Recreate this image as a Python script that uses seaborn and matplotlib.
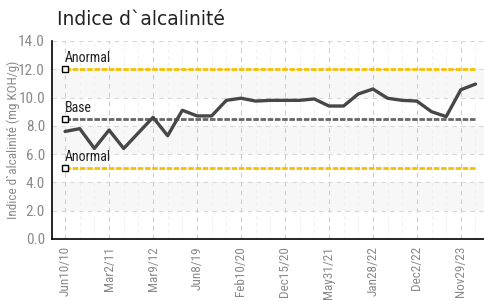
import matplotlib
matplotlib.use("Agg")
import matplotlib.pyplot as plt
from matplotlib import font_manager as fm
import seaborn as sns
import pandas as pd
import numpy as np

# ---- data ----
values = [7.6, 7.8, 6.4, 7.7, 6.4, 7.5, 8.6, 7.3, 9.1, 8.7, 8.7, 9.8, 9.95, 9.75, 9.8,
          9.8, 9.8, 9.9, 9.4, 9.4, 10.25, 10.6, 9.95, 9.8, 9.75, 9.0, 8.65, 10.55, 10.95]
tick_labels = ["Jun10/10", "Mar2/11", "Mar9/12", "Jun8/19", "Feb10/20", "Dec15/20",
               "May31/21", "Jan28/22", "Dec2/22", "Nov29/23"]
ref_names = ["Anormal", "Base", "Anormal"]
ref_values = [12.0, 8.5, 5.0]
ref_colors = ["#F5C000", "#666666", "#F5C000"]
y_ticks = [0, 2, 4, 6, 8, 10, 12, 14]

sns.set_style("white")

narrow = None
for cand in ["Liberation Sans Narrow", "Roboto Condensed", "Open Sans Condensed",
             "DejaVu Sans Condensed", "Liberation Sans"]:
    try:
        fm.findfont(fm.FontProperties(family=cand), fallback_to_default=False)
        narrow = cand
        break
    except Exception:
        continue
if narrow is None:
    narrow = "DejaVu Sans"
cond = [narrow, "DejaVu Sans"]
plt.rcParams["font.family"] = cond

fig = plt.figure(figsize=(4.85, 3.01), dpi=100)
ax = fig.add_axes([0.107, 0.206, 0.893, 0.658])

n = len(values)
idx = np.arange(n)
df = pd.DataFrame({"i": idx, "v": values})

# background bands
for lo in [2, 6, 10]:
    ax.axhspan(lo, lo + 2, color="#f7f7f7", zorder=0, lw=0)

# grid
for i in idx:
    major = (i % 3 == 0)
    ax.axvline(i, color="#cccccc" if major else "#eeeeee", lw=0.8 if major else 0.6,
               ls=(0, (4, 4)), zorder=0.5)
for yv in y_ticks:
    ax.axhline(yv, color="#d8d8d8", lw=0.8, ls=(0, (4, 4)), zorder=0.5)

# reference lines
for name, rv, col in zip(ref_names, ref_values, ref_colors):
    rdf = pd.DataFrame({"i": [0, n - 1], "v": [rv, rv]})
    sns.lineplot(data=rdf, x="i", y="v", ax=ax, color=col, lw=2.0,
                 ls=(0, (2, 0.6)), zorder=2)
    ax.plot([0], [rv], marker="s", ms=4, mfc="white", mec="black", mew=1.0, zorder=4)
    ax.text(0, rv + 0.3, name, fontsize=10, color="#222222", ha="left", va="bottom",
            family=cond, zorder=5)

# main series
sns.lineplot(data=df, x="i", y="v", ax=ax, color="#474747", lw=2.4, zorder=3)

ax.set_xlim(-0.9, 28.65)
ax.set_ylim(0, 14)
ax.set_yticks(y_ticks)
ax.set_yticklabels([f"{t:.1f}" for t in y_ticks])
ax.set_xticks(idx[::3])
ax.set_xticklabels(tick_labels, rotation=90)
xs = 9.5 if narrow != "Liberation Sans" else 7.5
ax.tick_params(axis="y", labelsize=11, labelcolor="#8a8a8a")
ax.tick_params(axis="x", labelsize=xs, labelcolor="#8a8a8a")
ax.tick_params(axis="both", color="black", length=4, width=1, direction="inout", pad=3)
ax.set_xlabel("")
ax.set_ylabel("Indice d`alcalinité (mg KOH/g)", fontsize=9.5, color="#8a8a8a")
ax.yaxis.set_label_coords(-0.074, 0.5)
for s in ["top", "right"]:
    ax.spines[s].set_visible(False)
for s in ["left", "bottom"]:
    ax.spines[s].set_color("black")
    ax.spines[s].set_linewidth(1.2)

fig.text(0.118, 0.935, "Indice d`alcalinité", fontsize=13.5, color="#222222",
         family=["DejaVu Sans"], ha="left", va="center")

fig.savefig("out.png", dpi=100)
